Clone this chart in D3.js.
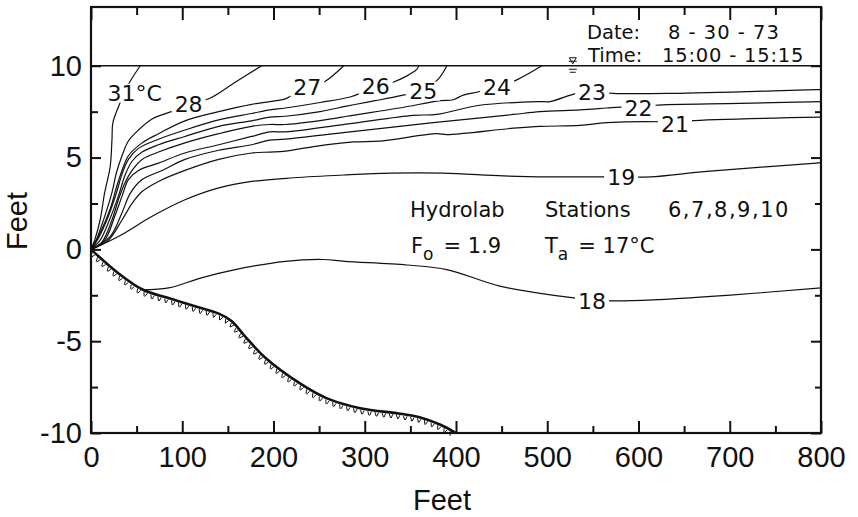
<!DOCTYPE html>
<html>
<head>
<meta charset="utf-8">
<script src="https://cdn.jsdelivr.net/npm/d3@7"></script>
<style>
  body { margin: 0; background: #fff; }
  svg { display: block; }
  .contour { fill: none; stroke: #111; stroke-width: 1.2; }
  .bed { fill: none; stroke: #111; stroke-width: 2.6; }
  .hatch { stroke: #111; stroke-width: 1; }
  .clabel { font-family: "DejaVu Sans", sans-serif; font-size: 22px; fill: #111; }
  .note { font-family: "DejaVu Sans", sans-serif; font-size: 21px; fill: #111; }
  .note.small { font-size: 19.5px; }
  .axis-title { font-family: "Liberation Sans", Arial, sans-serif; font-size: 29px; fill: #111; }
</style>
</head>
<body>
<svg id="chart" width="858" height="517"></svg>
<script>
// isotherms: [feet along section, feet relative to datum]
const iso31 = [[0,0],[4,0.5],[10,1.6],[15,3.1],[21,4.5],[23,6.0],[24,6.9],[32,8.0],[39,8.8],[46,9.4],[54,10]];
const iso28 = [[0,0],[4,0.3],[15,1.8],[23,3.1],[28,4.2],[34,5.1],[41,5.9],[52,6.5],[67,7.1],[88,7.5],[107,7.9],[129,8.2],[158,9.1],[187,10]];
const iso27 = [[0,0],[10,0.9],[21,2.2],[28,3.4],[34,4.3],[41,5.1],[56,5.8],[74,6.3],[103,7.0],[140,7.5],[176,7.9],[196,8.05],[213,8.2],[221,8.4],[237,8.8],[255,9.1],[277,10]];
const iso26 = [[0,0],[8,0.6],[19,1.8],[28,3.1],[34,4.1],[41,4.9],[52,5.5],[74,6.0],[103,6.5],[140,7.05],[176,7.4],[196,7.6],[213,7.7],[251,8.0],[284,8.3],[295,8.5],[312,8.9],[331,9.1],[357,9.8],[359,10]];
const iso25 = [[0,0],[10,0.5],[21,1.7],[30,2.9],[37,4.0],[45,4.8],[56,5.3],[74,5.7],[103,6.15],[140,6.7],[176,7.0],[196,7.2],[213,7.25],[251,7.5],[280,7.8],[306,8.05],[317,8.15],[342,8.4],[364,8.65],[381,9.3],[390,10]];
const iso24 = [[0,0],[12,0.4],[23,1.6],[30,2.7],[37,3.6],[45,4.3],[56,4.9],[74,5.3],[103,5.8],[140,6.3],[176,6.7],[196,6.8],[213,6.8],[269,7.15],[280,7.25],[338,7.7],[383,8.1],[397,8.15],[408,8.4],[426,8.6],[445,8.9],[463,9.15],[494,10]];
const iso23 = [[0,0],[15,0.5],[26,1.8],[34,2.9],[41,3.8],[52,4.3],[74,4.7],[103,5.25],[140,5.7],[176,6.15],[196,6.4],[213,6.4],[284,6.85],[353,7.3],[379,7.35],[426,7.85],[492,8.05],[503,8.05],[532,8.5],[549,8.6],[572,8.5],[638,8.5],[795,8.7],[800,8.7]];
const iso22 = [[0,0],[21,0.7],[34,2.0],[43,3.05],[56,3.8],[78,4.3],[103,4.9],[140,5.4],[176,5.7],[196,5.95],[213,6.0],[284,6.4],[375,6.9],[463,7.35],[492,7.5],[536,7.6],[565,7.7],[580,7.75],[601,7.75],[618,7.85],[711,7.95],[800,8.05]];
const iso21 = [[0,0],[19,0.5],[34,1.6],[45,2.5],[56,3.15],[74,3.7],[103,4.3],[140,4.9],[176,5.25],[196,5.3],[213,5.35],[244,5.6],[288,5.85],[317,5.9],[379,6.3],[390,6.25],[463,6.6],[492,6.7],[536,6.75],[565,6.9],[624,6.95],[640,6.9],[656,7.0],[800,7.2]];
const iso19 = [[0,0],[30,0.7],[67,1.8],[103,2.7],[140,3.35],[176,3.7],[222,3.9],[277,4.05],[328,4.15],[386,4.15],[452,4.0],[503,3.95],[565,3.95],[581,3.95],[613,3.95],[675,4.25],[795,4.7],[800,4.72]];
const iso18 = [[57,-2.2],[85,-2.1],[121,-1.55],[158,-1.1],[213,-0.65],[254,-0.55],[278,-0.65],[346,-0.85],[390,-1.1],[448,-2.0],[514,-2.55],[549,-2.75],[566,-2.8],[616,-2.75],[697,-2.5],[800,-2.1]];

// reservoir bottom
const bedProfile = [[0,0],[30,-1.3],[57,-2.2],[85,-2.65],[114,-3.1],[140,-3.5],[154,-3.9],[169,-4.75],[191,-5.9],[229,-7.3],[258,-8.1],[295,-8.65],[339,-8.95],[361,-9.15],[383,-9.55],[400,-10]];

// contour labels: text, x (ft), y (ft)
const labelText = ["31°C", "28", "27", "26", "25", "24", "23", "22", "21", "19", "18"];
const labelX    = [48, 107, 237, 312, 364, 445, 549, 600, 640, 581, 549];
const labelY    = [8.53, 7.93, 8.86, 8.91, 8.64, 8.86, 8.55, 7.71, 6.84, 3.95, -2.8];

const xTicks = [0, 100, 200, 300, 400, 500, 600, 700, 800];
const xMinor = [50, 150, 250, 350, 450, 550, 650, 750];
const yTicks = [-10, -5, 0, 5, 10];
const yMinor = [-7.5, -2.5, 2.5, 7.5];
const surfaceLevel = 10;
const gaugeX = 528;

const svg = d3.select("#chart");
const x = d3.scaleLinear().domain([0, 800]).range([91, 821]);
const y = d3.scaleLinear().domain([-10, 13.2]).range([433, 7]);

const line = d3.line()
  .x(d => x(d[0]))
  .y(d => y(d[1]))
  .curve(d3.curveCatmullRom.alpha(0.5));

// water surface
svg.append("line")
  .attr("x1", x(0)).attr("x2", x(800))
  .attr("y1", y(surfaceLevel)).attr("y2", y(surfaceLevel))
  .attr("stroke", "#111").attr("stroke-width", 1.6);

// gauge mark ▽ with ≡ under it
const gy = y(surfaceLevel), gx = x(gaugeX);
svg.append("path")
  .attr("d", `M${gx - 3.5},${gy - 8} L${gx + 3.5},${gy - 8} L${gx},${gy - 2} Z`)
  .attr("fill", "none").attr("stroke", "#111").attr("stroke-width", 1);
svg.append("line").attr("x1", gx - 4).attr("x2", gx + 4).attr("y1", gy - 4.5).attr("y2", gy - 4.5).attr("stroke", "#111").attr("stroke-width", 1);
[3.5, 6.5].forEach((dy, i) => {
  svg.append("line")
    .attr("x1", gx - 4 + i).attr("x2", gx + 4 - i)
    .attr("y1", gy + dy).attr("y2", gy + dy)
    .attr("stroke", "#111").attr("stroke-width", 1);
});

// isotherms
const isotherms = [iso31, iso28, iso27, iso26, iso25, iso24, iso23, iso22, iso21, iso19, iso18];
svg.append("g").selectAll("path")
  .data(isotherms)
  .join("path")
  .attr("class", "contour")
  .attr("d", line);

// bed line + hatching
const bed = svg.append("path").attr("class", "bed").attr("d", line(bedProfile));
const bedNode = bed.node();
const bedLen = bedNode.getTotalLength();
const hatch = svg.append("g");
for (let s = 3; s < bedLen - 2; s += 3.6) {
  const p = bedNode.getPointAtLength(s);
  const q = bedNode.getPointAtLength(Math.min(s + 1, bedLen));
  let dx = q.x - p.x, dy = q.y - p.y;
  const n = Math.hypot(dx, dy) || 1;
  dx /= n; dy /= n;
  // normal pointing below the bed
  const nx = -dy, ny = dx;
  const k = (Math.round(s / 3.6) % 2) ? 1.8 : -1.2;
  hatch.append("line")
    .attr("class", "hatch")
    .attr("x1", p.x + nx * 1.5).attr("y1", p.y + ny * 1.5)
    .attr("x2", p.x + nx * 5.5 + dx * k).attr("y2", p.y + ny * 5.5 + dy * k);
}

// contour labels with white knockout
const labels = svg.append("g");
labelText.forEach((t, i) => {
  const g = labels.append("g");
  const rect = g.append("rect").attr("fill", "#fff");
  const txt = g.append("text")
    .attr("class", "clabel")
    .attr("x", x(labelX[i]))
    .attr("y", y(labelY[i]))
    .attr("dy", "0.36em")
    .attr("text-anchor", "middle")
    .text(t);
  const bb = txt.node().getBBox();
  rect.attr("x", bb.x - 3).attr("y", bb.y + 3)
    .attr("width", bb.width + 6).attr("height", bb.height - 6);
});

// axes (ticks point inward)
function styleAxis(g) {
  g.select(".domain").remove();
  g.selectAll(".tick line").attr("stroke", "#111").attr("stroke-width", 2);
  g.selectAll(".tick text")
    .attr("fill", "#111")
    .style("font-family", "'Liberation Sans', Arial, sans-serif")
    .style("font-size", "29px");
}

svg.append("g").attr("transform", `translate(0,${y(-10)})`)
  .call(d3.axisBottom(x).tickValues(xTicks).tickSize(-12).tickPadding(13).tickFormat(d3.format("d")))
  .call(styleAxis);
svg.append("g").attr("transform", `translate(0,${y(-10)})`)
  .call(d3.axisBottom(x).tickValues(xMinor).tickSize(-7).tickFormat(""))
  .call(styleAxis);
svg.append("g").attr("transform", `translate(0,${y(13.2)})`)
  .call(d3.axisTop(x).tickValues(xTicks).tickSize(-13).tickFormat(""))
  .call(styleAxis);
svg.append("g").attr("transform", `translate(0,${y(13.2)})`)
  .call(d3.axisTop(x).tickValues(xMinor).tickSize(-8).tickFormat(""))
  .call(styleAxis);
svg.append("g").attr("transform", `translate(${x(0)},0)`)
  .call(d3.axisLeft(y).tickValues(yTicks).tickSize(-10).tickPadding(9).tickFormat(d => d < 0 ? "-" + Math.abs(d) : d))
  .call(styleAxis);
svg.append("g").attr("transform", `translate(${x(0)},0)`)
  .call(d3.axisLeft(y).tickValues(yMinor).tickSize(-7).tickFormat(""))
  .call(styleAxis);
svg.append("g").attr("transform", `translate(${x(800)},0)`)
  .call(d3.axisRight(y).tickValues(yTicks).tickSize(-10).tickFormat(""))
  .call(styleAxis);
svg.append("g").attr("transform", `translate(${x(800)},0)`)
  .call(d3.axisRight(y).tickValues(yMinor).tickSize(-6).tickFormat(""))
  .call(styleAxis);

// frame
svg.append("rect")
  .attr("x", x(0)).attr("y", y(13.2))
  .attr("width", x(800) - x(0)).attr("height", y(-10) - y(13.2))
  .attr("fill", "none").attr("stroke", "#111").attr("stroke-width", 2.2);

// axis titles
svg.append("text").attr("class", "axis-title")
  .attr("x", 442).attr("y", 510).attr("text-anchor", "middle").text("Feet");
svg.append("text").attr("class", "axis-title")
  .attr("transform", "translate(27,221) rotate(-90)")
  .attr("text-anchor", "middle").text("Feet");

// annotations
const note = (tx, ty, s) => svg.append("text").attr("class", "note").attr("x", tx).attr("y", ty).text(s);
note(587, 38.5, "Date:").classed("small", true);
note(668, 38.5, "8 - 30 - 73").classed("small", true).attr("letter-spacing", "1px");
note(588, 61.5, "Time:").classed("small", true);
note(662, 61.5, "15:00 - 15:15").classed("small", true).attr("letter-spacing", "0.8px");
note(410, 217, "Hydrolab");
note(545, 217, "Stations");
note(668, 217, "6,7,8,9,10").attr("letter-spacing", "1.5px");

const f = note(411, 253, "F");
f.append("tspan").attr("dy", 7).style("font-size", "17px").text("o");
f.append("tspan").attr("dy", -7).attr("dx", 10).text("= 1.9");
const ta = note(545, 253, "T");
ta.append("tspan").attr("dy", 7).style("font-size", "17px").text("a");
ta.append("tspan").attr("dy", -7).attr("dx", 10).text("= 17°C");
</script>
</body>
</html>
